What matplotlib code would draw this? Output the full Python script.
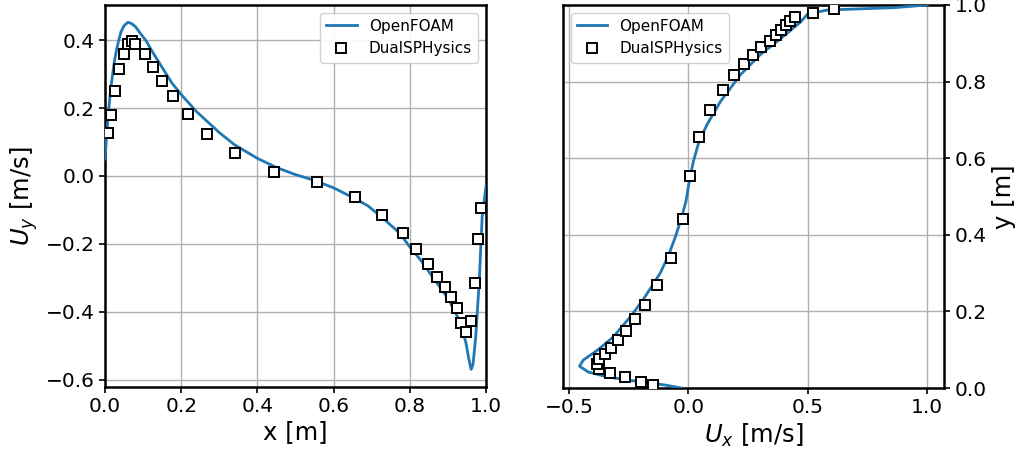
import matplotlib
matplotlib.use("Agg")
import matplotlib.pyplot as plt

# Left panel: OpenFOAM profile Uy(x)
foam_x = [0.0, 0.005, 0.01, 0.015, 0.02, 0.025, 0.03, 0.036, 0.042, 0.05, 0.06, 0.07, 0.08,
          0.093, 0.107, 0.125, 0.15, 0.175, 0.2, 0.24, 0.3, 0.34, 0.4, 0.45, 0.5, 0.55, 0.6,
          0.65, 0.69, 0.73, 0.773, 0.8, 0.83, 0.86, 0.9, 0.93, 0.947, 0.955, 0.961, 0.966,
          0.973, 0.982, 0.99, 1.0]
foam_uy = [0.05, 0.13, 0.2, 0.255, 0.30, 0.34, 0.37, 0.40, 0.425, 0.443, 0.453, 0.449, 0.44,
           0.42, 0.40, 0.365, 0.32, 0.275, 0.24, 0.19, 0.128, 0.092, 0.052, 0.025, 0.004,
           -0.013, -0.035, -0.063, -0.088, -0.125, -0.168, -0.209, -0.25, -0.298, -0.36,
           -0.425, -0.49, -0.54, -0.57, -0.555, -0.475, -0.316, -0.12, -0.03]

# Left panel: DualSPHysics Uy(x)
sph_x = [0.008, 0.016, 0.026, 0.037, 0.05, 0.06, 0.072, 0.078, 0.105, 0.126, 0.149, 0.178,
         0.217, 0.269, 0.342, 0.444, 0.556, 0.655, 0.728, 0.781, 0.817, 0.849, 0.872, 0.892,
         0.908, 0.925, 0.935, 0.948, 0.96, 0.971, 0.98, 0.987]
sph_uy = [0.127, 0.18, 0.25, 0.315, 0.36, 0.39, 0.397, 0.39, 0.36, 0.32, 0.28, 0.236,
          0.183, 0.124, 0.068, 0.012, -0.018, -0.063, -0.115, -0.168, -0.216, -0.26, -0.298,
          -0.328, -0.356, -0.39, -0.434, -0.46, -0.427, -0.316, -0.186, -0.094]

# Right panel: OpenFOAM profile Ux(y)
foam_ux = [-0.03, -0.1, -0.2, -0.34, -0.42, -0.456, -0.44, -0.38, -0.315, -0.244, -0.19,
           -0.118, -0.084, -0.056, -0.03, -0.01, 0.005, 0.021, 0.045, 0.08, 0.134, 0.218,
           0.3, 0.386, 0.47, 0.5, 0.584, 0.72, 0.86, 1.0]
foam_y = [0.0, 0.008, 0.016, 0.029, 0.042, 0.057, 0.073, 0.099, 0.133, 0.185, 0.23,
          0.30, 0.345, 0.392, 0.442, 0.488, 0.545, 0.592, 0.645, 0.69, 0.748, 0.818,
          0.87, 0.912, 0.956, 0.977, 0.987, 0.99, 0.993, 1.0]

# Right panel: DualSPHysics Ux(y)
sph_ux = [-0.147, -0.2, -0.265, -0.328, -0.374, -0.382, -0.374, -0.35, -0.323, -0.294,
          -0.26, -0.223, -0.18, -0.13, -0.073, -0.021, 0.008, 0.046, 0.092, 0.143, 0.189,
          0.231, 0.27, 0.302, 0.34, 0.366, 0.387, 0.408, 0.425, 0.445, 0.52, 0.61]
sph_y = [0.008, 0.016, 0.029, 0.039, 0.049, 0.062, 0.075, 0.088, 0.104, 0.125,
         0.148, 0.179, 0.218, 0.27, 0.34, 0.442, 0.553, 0.655, 0.727, 0.779, 0.818,
         0.847, 0.87, 0.891, 0.906, 0.922, 0.935, 0.948, 0.958, 0.969, 0.979, 0.99]

line_color = "#1f77b4"
W, H = 1017, 453
fig = plt.figure(figsize=(W / 100, H / 100), dpi=100)

ax1 = fig.add_axes([105 / W, 1 - 387 / H, 381 / W, 382 / H])
ax2 = fig.add_axes([563 / W, 1 - 388 / H, 381 / W, 383 / H])

marker_kw = dict(linestyle="none", marker="s", markersize=7.5, markerfacecolor="white",
                 markeredgecolor="black", markeredgewidth=1.4)

ax1.plot(foam_x, foam_uy, color=line_color, lw=2.0, label="OpenFOAM", zorder=3)
ax1.plot(sph_x, sph_uy, label="DualSPHysics", zorder=4, **marker_kw)
ax1.set_xlim(0, 1.0)
ax1.set_ylim(-0.622, 0.504)
ax1.set_xticks([0.0, 0.2, 0.4, 0.6, 0.8, 1.0])
ax1.set_yticks([-0.6, -0.4, -0.2, 0.0, 0.2, 0.4])
ax1.set_xlabel("x [m]", fontsize=17.5, labelpad=3)
ax1.set_ylabel("$U_y$ [m/s]", fontsize=17.5)
ax1.legend(loc="upper right", fontsize=11, framealpha=0.9, edgecolor="#cccccc")

ax2.plot(foam_ux, foam_y, color=line_color, lw=2.0, label="OpenFOAM", zorder=3)
ax2.plot(sph_ux, sph_y, label="DualSPHysics", zorder=4, **marker_kw)
ax2.set_xlim(-0.525, 1.07)
ax2.set_ylim(0, 1.0)
ax2.set_xticks([-0.5, 0.0, 0.5, 1.0])
ax2.set_yticks([0.0, 0.2, 0.4, 0.6, 0.8, 1.0])
ax2.yaxis.tick_right()
ax2.yaxis.set_label_position("right")
ax2.set_xlabel("$U_x$ [m/s]", fontsize=17.5, labelpad=3)
ax2.set_ylabel("y [m]", fontsize=17.5)
ax2.legend(loc="upper left", fontsize=11, framealpha=0.9, edgecolor="#cccccc")

for ax in (ax1, ax2):
    ax.grid(True, color="#b0b0b0", lw=1.0)
    ax.set_axisbelow(True)
    for s in ax.spines.values():
        s.set_color("black")
        s.set_linewidth(1.8)
    ax.tick_params(labelsize=14.5, length=4, width=1.2, color="black")

fig.savefig("out.png", dpi=100)
